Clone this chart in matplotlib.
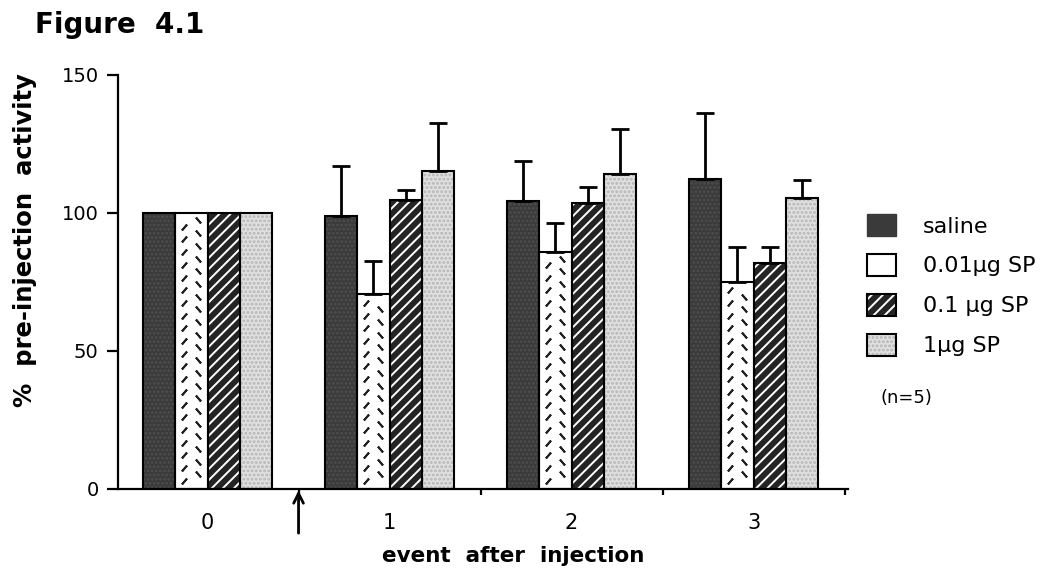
import numpy as np
import matplotlib
matplotlib.use("Agg")
import matplotlib.pyplot as plt
from matplotlib.patches import Patch
from matplotlib.legend_handler import HandlerTuple

# ---- data ----
events = [0, 1, 2, 3]
event_labels = ["0", "1", "2", "3"]
series_names = ["saline", "0.01\u00b5g SP", "0.1 \u00b5g SP", "1\u00b5g SP"]
saline = [100, 98.9, 104.5, 112.2]
sp001 = [100, 70.6, 86.0, 75.1]
sp01 = [100, 104.7, 103.7, 82.0]
sp1 = [100, 115.2, 114.0, 105.3]
saline_err = [0, 18.0, 14.5, 24.0]
sp001_err = [0, 12.0, 10.5, 12.7]
sp01_err = [0, 3.6, 5.7, 5.8]
sp1_err = [0, 17.5, 16.5, 6.7]
ytick_vals = [0, 50, 100, 150]

plt.rcParams["font.family"] = ["DejaVu Sans"]
plt.rcParams["hatch.linewidth"] = 1.4

fig = plt.figure(figsize=(10.5, 5.71), dpi=100)
W, H = 1050, 571
ax = fig.add_axes([118 / W, 1 - 489 / H, (848 - 118) / W, (489 - 75) / H])

x = np.array(events, dtype=float)
w = 0.178
offsets = [-1.5 * w, -0.5 * w, 0.5 * w, 1.5 * w]
vals = [saline, sp001, sp01, sp1]
errs = [saline_err, sp001_err, sp01_err, sp1_err]

DARK = "#3a3a3a"
STRIPE_BG = "#242424"
LIGHT = "#e0e0e0"

# saline: dark mottled
ax.bar(x + offsets[0], saline, w, color=DARK, edgecolor="#4e4e4e",
       hatch="....", linewidth=0, zorder=2)
# 0.01: white with dashes
ax.bar(x + offsets[1], sp001, w, color="white", linewidth=0, zorder=2)
for xi, h in zip(x + offsets[1], sp001):
    ys = np.arange(3.0, h - 2.0, 4.6)
    ax.plot(np.full(len(ys), xi - 0.22 * w), ys, linestyle="none",
            marker=(2, 2, -40), markersize=5.5, mec="#222222", mew=1.4, zorder=3)
    ys2 = np.arange(5.3, h - 2.0, 4.6)
    ax.plot(np.full(len(ys2), xi + 0.22 * w), ys2, linestyle="none",
            marker=(2, 2, 40), markersize=5.5, mec="#222222", mew=1.4, zorder=3)
# 0.1: dark with white diagonal stripes
ax.bar(x + offsets[2], sp01, w, color=STRIPE_BG, edgecolor="white",
       hatch="///", linewidth=0, zorder=2)
# 1: light stipple
ax.bar(x + offsets[3], sp1, w, color=LIGHT, edgecolor="#b5b5b5",
       hatch="....", linewidth=0, zorder=2)

# outlines + error bars
for off, v, e in zip(offsets, vals, errs):
    ax.bar(x + off, v, w, fill=False, edgecolor="black", linewidth=1.5, zorder=4)
    e = np.array(e, dtype=float)
    m = e > 0
    ax.errorbar((x + off)[m], np.array(v)[m], yerr=[np.zeros(m.sum()), e[m]],
                fmt="none", ecolor="black", elinewidth=2, capsize=6.5,
                capthick=2, zorder=5)

ax.set_xlim(-0.492, 3.519)
ax.set_ylim(0, 150)
ax.spines["top"].set_visible(False)
ax.spines["right"].set_visible(False)
ax.spines["left"].set_linewidth(1.6)
ax.spines["bottom"].set_linewidth(1.6)

ax.set_yticks(ytick_vals)
ax.set_yticklabels([str(v) for v in ytick_vals], fontsize=14)
ax.tick_params(axis="y", length=8, width=1.6, pad=6, direction="out")

ax.set_xticks(events)
ax.set_xticklabels(event_labels, fontsize=15)
ax.set_xticks([0.5, 1.5, 2.5, 3.5], minor=True)
ax.tick_params(axis="x", which="major", length=0, pad=17)
ax.tick_params(axis="x", which="minor", length=4, width=1.6, direction="out")

# arrow marking injection
ax.annotate("", xy=(0.5, 0), xytext=(0.5, -16), xycoords="data",
            textcoords="data", annotation_clip=False,
            arrowprops=dict(arrowstyle="->,head_length=0.7,head_width=0.35",
                            lw=2, color="black", shrinkA=0, shrinkB=1))

fig.text(35 / W, 1 - 33 / H, "Figure  4.1", fontsize=20, fontweight="bold",
         ha="left", va="baseline")
fig.text(25 / W, 1 - 240 / H, "%  pre-injection  activity", fontsize=17.5,
         fontweight="bold", rotation=90, ha="center", va="center")
fig.text(513 / W, 1 - 556 / H, "event  after  injection", fontsize=15.5,
         fontweight="bold", ha="center", va="center")

# legend
h0 = Patch(facecolor=DARK, edgecolor=DARK)
h1 = Patch(facecolor="white", edgecolor="black", linewidth=1.5)
h2a = Patch(facecolor=STRIPE_BG, edgecolor="white", hatch="///", linewidth=0)
h2b = Patch(facecolor="none", edgecolor="black", linewidth=1.5)
h3a = Patch(facecolor=LIGHT, edgecolor="#b5b5b5", hatch="....", linewidth=0)
h3b = Patch(facecolor="none", edgecolor="black", linewidth=1.5)
leg = fig.legend([h0, h1, (h2a, h2b), (h3a, h3b)], series_names,
                 handler_map={tuple: HandlerTuple(ndivide=1, pad=0)},
                 loc="upper left", bbox_to_anchor=(867 / W, 1 - 214 / H),
                 frameon=False, fontsize=16, handlelength=1.3, handleheight=1.15,
                 handletextpad=1.2, labelspacing=0.78, borderpad=0,
                 borderaxespad=0)
fig.text(880 / W, 1 - 398 / H, "(n=5)", fontsize=13, ha="left", va="center")

fig.savefig("out.png", dpi=100)
